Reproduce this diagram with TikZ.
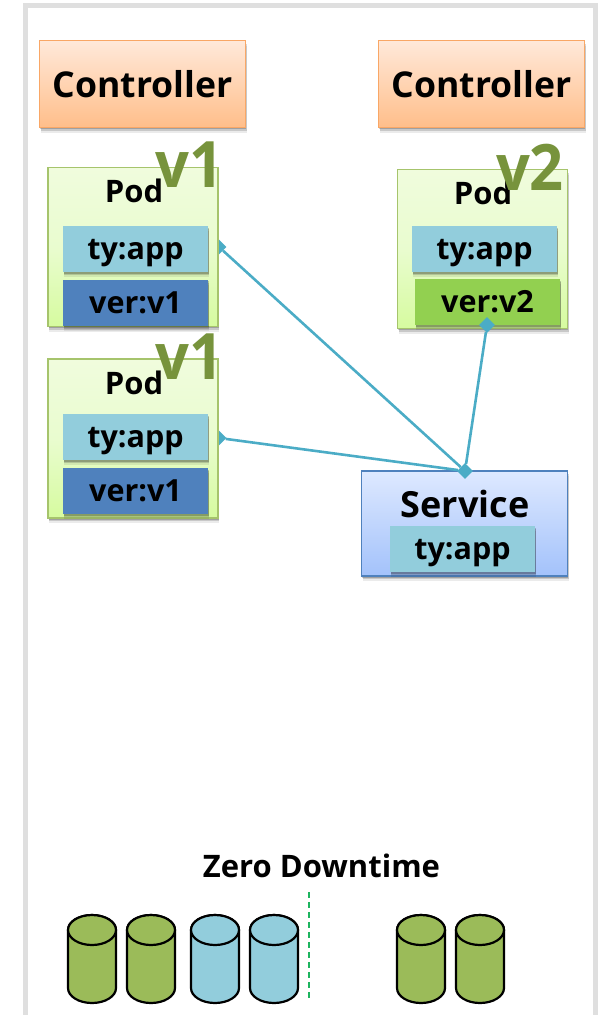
\documentclass[tikz,border=0pt]{standalone}
\usepackage{fontspec}
\setmainfont{Open Sans}
\usetikzlibrary{shapes.geometric,shadows}
\definecolor{appblue}{HTML}{92CDDC}
\definecolor{verblue}{HTML}{4F81BD}
\definecolor{vergreen}{HTML}{92D050}
\definecolor{cyl}{HTML}{9BBB59}
\definecolor{vtext}{HTML}{77933C}
\definecolor{linkc}{HTML}{4BACC6}
\definecolor{framec}{HTML}{DFDFDF}
\definecolor{ctrltop}{HTML}{FFE9DA}
\definecolor{ctrlbot}{HTML}{FFBE8A}
\definecolor{ctrlline}{HTML}{F9A766}
\definecolor{podtop}{HTML}{F0FCDD}
\definecolor{podmid}{HTML}{E9FCCF}
\definecolor{podbot}{HTML}{D6FB9F}
\definecolor{podline}{HTML}{A6C46C}
\definecolor{svctop}{HTML}{DEE9FF}
\definecolor{svcbot}{HTML}{A3C2FB}
\definecolor{dashc}{HTML}{1DB45F}
\tikzset{
  softshadow/.style={
    drop shadow={shadow xshift=0.6pt,shadow yshift=-1.8pt,opacity=.2,fill=black},
    drop shadow={shadow xshift=1pt,shadow yshift=-3.4pt,opacity=.15,fill=black},
    drop shadow={shadow xshift=1.2pt,shadow yshift=-5pt,opacity=.08,fill=black}},
  ctrl/.style={draw=ctrlline,line width=1.2pt,top color=ctrltop,bottom color=ctrlbot,softshadow,minimum width=206pt,minimum height=87pt,inner sep=0pt,font=\bfseries\fontsize{35.6}{35.6}\selectfont},
  podbox/.style={draw=podline,line width=1.2pt,top color=podtop,bottom color=podbot,middle color=podmid,softshadow,minimum width=170pt,minimum height=159pt,inner sep=0pt},
  podtitle/.style={font=\bfseries\fontsize{31}{31}\selectfont,inner sep=0pt},
  labelbox/.style={softshadow,minimum width=145pt,minimum height=46pt,inner sep=0pt,text height=21.5pt,text depth=0pt,font=\bfseries\fontsize{30.5}{30.5}\selectfont},
  tyapp/.style={labelbox,fill=appblue},
  verone/.style={labelbox,fill=verblue},
  vertwo/.style={labelbox,fill=vergreen},
  svc/.style={draw=verblue,line width=1.2pt,top color=svctop,bottom color=svcbot,softshadow,minimum width=206pt,minimum height=105pt,inner sep=0pt},
  vmark/.style={text=vtext,inner sep=0pt,xscale=.93,font=\bfseries\fontsize{64}{64}\selectfont},
  joint/.style={diamond,fill=linkc,inner sep=0pt,minimum size=#1},
  link/.style={draw=linkc,line width=2.6pt},
  cylbody/.style={draw=black,line width=2.2pt},
}
\newcommand{\drum}[2]{%
  \filldraw[cylbody,fill=#2] (#1-24,930) -- (#1-24,988) arc[start angle=180,end angle=0,x radius=24,y radius=15] -- (#1+24,930) arc[start angle=0,end angle=-180,x radius=24,y radius=15] -- cycle;
  \filldraw[cylbody,fill=#2] (#1,930) ellipse[x radius=24,y radius=15];
}
\begin{document}
\begin{tikzpicture}[x=1pt,y=-1pt]
\useasboundingbox (0,0) rectangle (605,1015);
\draw[framec,line width=5pt] (25.5,1015) -- (25.5,5.5) -- (595.5,5.5) -- (595.5,1015);

\node[ctrl] (c1) at (142.5,84) {Controller};
\node[ctrl] (c2) at (481.5,84) {Controller};

\node[joint=15pt] (j1) at (219,247) {};
\node[joint=15pt] (j2) at (219,438) {};

\node[podbox] (p1) at (133,247) {};
\node[podbox] (p2) at (133,438.5) {};
\node[podbox] (p3) at (482.5,249) {};

\node[podtitle] (t1) at (134,191) {Pod};
\node[podtitle] (t2) at (134,383) {Pod};
\node[podtitle] (t3) at (483,193) {Pod};

\node[tyapp] (a1) at (135.5,249) {ty:app};
\node[verone] (v1) at (135.5,302.5) {ver:v1};
\node[tyapp] (a2) at (135.5,437) {ty:app};
\node[verone] (v2) at (135.5,491) {ver:v1};
\node[tyapp] (a3) at (484.5,249) {ty:app};
\node[vertwo] (v3) at (487.5,302) {ver:v2};

\node[vmark] (m1) at (189.5,165) {v1};
\node[vmark] (m2) at (189.5,357) {v1};
\node[vmark] (m3) at (530,167) {v2};

\node[svc] (s) at (464.5,523.5) {};
\node[tyapp] (a4) at (462.5,549) {ty:app};
\node[font=\bfseries\fontsize{36}{36}\selectfont,inner sep=0pt] (st) at (465,504) {Service};

\node[joint=16pt] (j3) at (487,325) {};
\node[joint=16pt] (j4) at (465,471) {};
\draw[link] (j1) -- (j4);
\draw[link] (j2) -- (j4);
\draw[link] (j3) -- (j4);

\node[font=\bfseries\fontsize{31}{31}\selectfont,inner sep=0pt] (z) at (321.5,866) {Zero Downtime};
\coordinate (d1) at (309,892);
\coordinate (d2) at (309,1000);
\draw[dashc,line width=1.8pt,dash pattern=on 6pt off 4pt] (d1) -- (d2);

\drum{92}{cyl}
\drum{151}{cyl}
\drum{215}{appblue}
\drum{274}{appblue}
\drum{421}{cyl}
\drum{480}{cyl}
\end{tikzpicture}
\end{document}
